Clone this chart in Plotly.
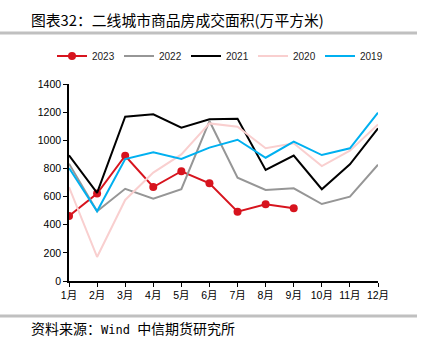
import plotly.graph_objects as go

months = ["1月", "2月", "3月", "4月", "5月", "6月", "7月", "8月", "9月", "10月", "11月", "12月"]
y2023 = [462, 622, 890, 668, 780, 694, 493, 545, 517]
y2022 = [834, 496, 655, 585, 652, 1137, 734, 647, 659, 547, 599, 827]
y2021 = [893, 626, 1168, 1185, 1090, 1149, 1153, 789, 891, 652, 829, 1085]
y2020 = [667, 171, 576, 770, 900, 1120, 1097, 943, 979, 817, 926, 1113]
y2019 = [803, 496, 867, 915, 867, 948, 1004, 876, 990, 895, 943, 1196]
yticks = [0, 200, 400, 600, 800, 1000, 1200, 1400]

title_text = "图表32：二线城市商品房成交面积(万平方米)"
source_text = ("资料来源：<span style=\"font-family:'DejaVu Sans Mono';font-size:12px\">Wind </span>"
               "中信期货研究所")

FONT = "Liberation Sans, Arial, Noto Sans CJK SC"
CJK = "Noto Sans CJK SC"

fig = go.Figure()
fig.add_trace(go.Scatter(x=months[:len(y2023)], y=y2023, name="2023", mode="lines+markers",
                         line=dict(color="#D7141E", width=2), marker=dict(size=8, color="#D7141E")))
fig.add_trace(go.Scatter(x=months, y=y2022, name="2022", mode="lines",
                         line=dict(color="#969696", width=2)))
fig.add_trace(go.Scatter(x=months, y=y2021, name="2021", mode="lines",
                         line=dict(color="#000000", width=2)))
fig.add_trace(go.Scatter(x=months, y=y2020, name="2020", mode="lines",
                         line=dict(color="#F9CFCF", width=2)))
fig.add_trace(go.Scatter(x=months, y=y2019, name="2019", mode="lines",
                         line=dict(color="#00B0F0", width=2)))

L, R, T, B = 69, 378, 84, 281
W, H = 422, 341
pw, ph = R - L, B - T

def px_x(x):
    return (x - L) / pw

def px_y(y):
    return (B - y) / ph

fig.update_layout(
    width=W, height=H,
    margin=dict(l=L, r=W - R, t=T, b=H - B),
    paper_bgcolor="white", plot_bgcolor="white",
    font=dict(family=FONT, size=10.5, color="#000000"),
    showlegend=True,
    legend=dict(orientation="h", x=px_x(52), xanchor="left", y=px_y(56), yanchor="middle",
                font=dict(size=10, family=FONT, color="#222"), itemwidth=30,
                entrywidth=22, entrywidthmode="pixels",
                bgcolor="rgba(0,0,0,0)", tracegroupgap=0),
    xaxis=dict(type="category", range=[0, len(months) - 1], showgrid=False, zeroline=False,
               showline=True, linecolor="#000", linewidth=1.5,
               ticks="outside", ticklen=4, tickcolor="#000", tickwidth=1,
               tickfont=dict(size=10.5, family=FONT, color="#000")),
    yaxis=dict(range=[0, 1400], tickvals=yticks, showgrid=False, zeroline=False,
               showline=True, linecolor="#000", linewidth=1.5,
               ticks="outside", ticklen=4, tickcolor="#000", tickwidth=1,
               tickfont=dict(size=10.5, family=FONT, color="#000")),
    shapes=[
        dict(type="line", xref="paper", yref="paper", x0=px_x(0), x1=px_x(417),
             y0=px_y(33), y1=px_y(33), line=dict(color="#C0C0C0", width=3)),
        dict(type="line", xref="paper", yref="paper", x0=px_x(0), x1=px_x(417),
             y0=px_y(316), y1=px_y(316), line=dict(color="#C0C0C0", width=3)),
    ],
    annotations=[
        dict(text=title_text, xref="paper", yref="paper", x=px_x(29), y=px_y(20),
             xanchor="left", yanchor="middle", showarrow=False,
             font=dict(family=CJK, size=14.8, color="#000")),
        dict(text=source_text, xref="paper", yref="paper", x=px_x(29), y=px_y(328),
             xanchor="left", yanchor="middle", showarrow=False,
             font=dict(family=CJK, size=14, color="#000")),
    ],
)

fig.write_html("out.html")
